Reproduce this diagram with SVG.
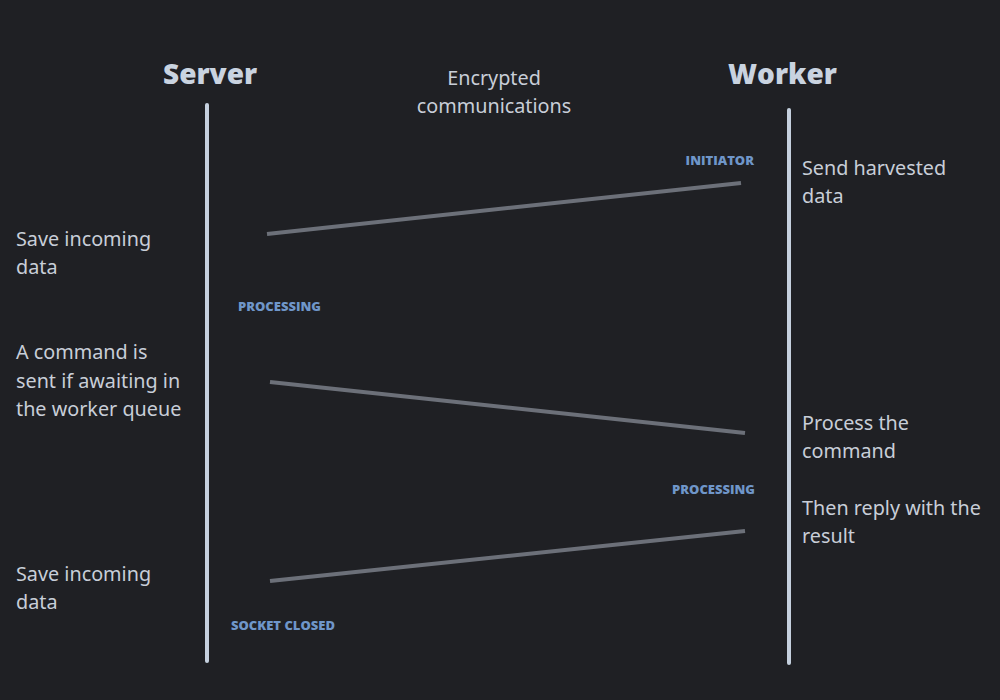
<svg xmlns="http://www.w3.org/2000/svg" width="1000" height="700" viewBox="0 0 1000 700">
<style>
.bg{fill:#1f2024}
.life{stroke:#c5d0de;stroke-width:4;stroke-linecap:round}
.msg{stroke:#6c7079;stroke-width:4}
.title{font-family:"Open Sans","Noto Sans",sans-serif;font-weight:800;font-size:28px;fill:#c9d3e0}
.txt{font-family:"Noto Sans","Open Sans",sans-serif;font-size:19.8px;fill:#c8ced8}
.lbl{font-family:"Open Sans","Noto Sans",sans-serif;font-weight:800;font-size:13px;fill:#6f96c9}
</style>
<rect class="bg" x="0" y="0" width="1000" height="700"/>
<g id="server">
<text class="title" x="163" y="84">Server</text>
<line class="life" x1="207" y1="105" x2="207" y2="661"/>
</g>
<g id="worker">
<text class="title" x="728" y="84">Worker</text>
<line class="life" x1="789" y1="110" x2="789" y2="663"/>
</g>
<g id="channel">
<text class="txt" x="494" y="85" text-anchor="middle">Encrypted</text>
<text class="txt" x="494" y="113" text-anchor="middle">communications</text>
</g>
<g id="server-notes">
<text class="txt" x="16" y="246">Save incoming</text>
<text class="txt" x="16" y="274">data</text>
<text class="txt" x="16" y="359">A command is</text>
<text class="txt" x="16" y="388">sent if awaiting in</text>
<text class="txt" x="16" y="416">the worker queue</text>
<text class="txt" x="16" y="581">Save incoming</text>
<text class="txt" x="16" y="609">data</text>
</g>
<g id="worker-notes">
<text class="txt" x="802" y="175">Send harvested</text>
<text class="txt" x="802" y="203">data</text>
<text class="txt" x="802" y="430">Process the</text>
<text class="txt" x="802" y="458">command</text>
<text class="txt" x="802" y="515">Then reply with the</text>
<text class="txt" x="802" y="543">result</text>
</g>
<g id="labels">
<text class="lbl" x="754" y="165" text-anchor="end">INITIATOR</text>
<text class="lbl" x="238" y="311">PROCESSING</text>
<text class="lbl" x="755" y="494" text-anchor="end">PROCESSING</text>
<text class="lbl" x="231" y="630">SOCKET CLOSED</text>
</g>
<g id="connectors">
<line class="msg" x1="741" y1="183" x2="267" y2="234"/>
<line class="msg" x1="270" y1="382" x2="745" y2="433"/>
<line class="msg" x1="745" y1="531" x2="270" y2="581"/>
</g>
</svg>
